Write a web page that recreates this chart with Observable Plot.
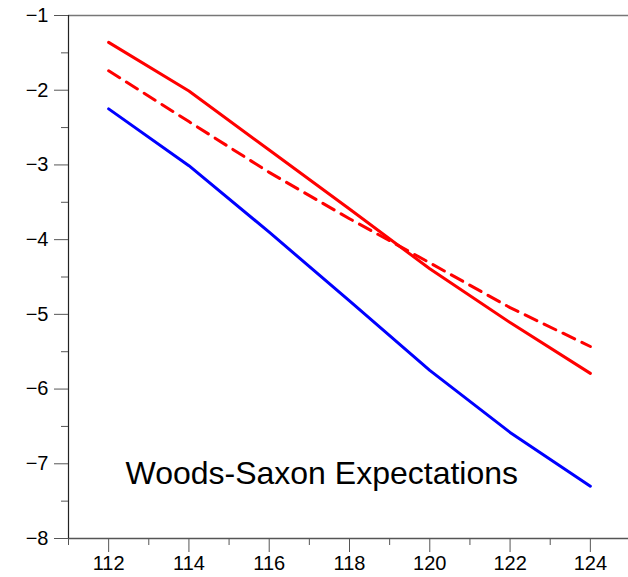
<!DOCTYPE html>
<html><head><meta charset="utf-8">
<script src="https://cdn.jsdelivr.net/npm/d3@7"></script>
<script src="https://cdn.jsdelivr.net/npm/@observablehq/plot@0.6"></script>
<style>body{margin:0;background:#fff;font-family:"Liberation Sans",Arial,sans-serif}</style>
</head><body><div id="chart"></div>
<script>
const massNumbers = [112, 114, 116, 118, 120, 122, 124];
const redSolid  = [-1.36, -2.01, -2.80, -3.59, -4.39, -5.11, -5.79];
const redDashed = [-1.74, -2.42, -3.10, -3.72, -4.31, -4.91, -5.43];
const blueSolid = [-2.25, -3.01, -3.90, -4.82, -5.75, -6.58, -7.30];
const xMajorTicks = [112, 114, 116, 118, 120, 122, 124];
const xMinorTicks = [111, 113, 115, 117, 119, 121, 123, 125];
const yMajorTicks = [-1, -2, -3, -4, -5, -6, -7, -8];
const yMinorTicks = [-1.5, -2.5, -3.5, -4.5, -5.5, -6.5, -7.5];
const label = "Woods-Saxon Expectations";

const mk = (ys) => massNumbers.map((x, i) => ({x, y: ys[i]}));
const fmt = d3.format("d");

const chart = Plot.plot({
  width: 628, height: 577,
  marginTop: 15, marginBottom: 39, marginLeft: 68, marginRight: 0,
  style: {fontFamily: "'Liberation Sans', Arial, sans-serif", fontSize: "20px", color: "#000", background: "#fff"},
  x: {domain: [111, 125], range: [68, 630]},
  y: {domain: [-8, -1]},
  marks: [
    Plot.ruleY([-1], {stroke: "#777", strokeWidth: 1.5}),
    Plot.ruleY([-8], {stroke: "#555", strokeWidth: 1.5}),
    Plot.ruleX([111], {stroke: "#222", strokeWidth: 1.2}),
    Plot.axisY(yMajorTicks, {tickSize: 14, tickPadding: 6, tickFormat: fmt, label: null, stroke: "#555", fontSize: 20}),
    Plot.axisY(yMinorTicks, {tickSize: 7, tickFormat: () => "", label: null, stroke: "#555"}),
    Plot.axisX(xMajorTicks, {tickSize: 14, tickPadding: 3, tickFormat: fmt, label: null, stroke: "#555", fontSize: 20}),
    Plot.axisX(xMinorTicks, {tickSize: 7, tickFormat: () => "", label: null, stroke: "#555"}),
    Plot.line(mk(blueSolid), {x: "x", y: "y", stroke: "#0000ff", strokeWidth: 3}),
    Plot.line(mk(redSolid), {x: "x", y: "y", stroke: "#ff0000", strokeWidth: 3}),
    Plot.line(mk(redDashed), {x: "x", y: "y", stroke: "#ff0000", strokeWidth: 3, strokeDasharray: "13,8"}),
    Plot.text([label], {x: 112.42, y: -7.13, text: d => d, textAnchor: "start", fontSize: 32, fill: "#000"})
  ]
});
document.getElementById("chart").appendChild(chart);
</script></body></html>
